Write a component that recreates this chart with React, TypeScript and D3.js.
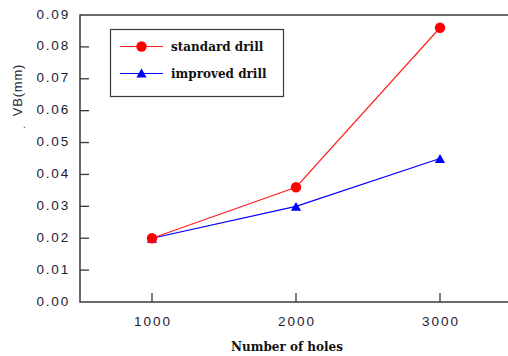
import React, { useEffect, useRef } from 'react';
import * as d3 from 'd3';

const holes = [1000, 2000, 3000];
const standardDrill = [0.02, 0.036, 0.086];
const improvedDrill = [0.02, 0.03, 0.045];
const yTicks = [0, 0.01, 0.02, 0.03, 0.04, 0.05, 0.06, 0.07, 0.08, 0.09];
const seriesNames = ['standard drill', 'improved drill'];

export default function App() {
  const ref = useRef<SVGSVGElement>(null);

  useEffect(() => {
    const svg = d3.select(ref.current);
    svg.selectAll('*').remove();

    const left = 80, top = 15, bottom = 302, right = 512;
    const x = d3.scaleLinear().domain([500, 3500]).range([left, right]);
    const y = d3.scaleLinear().domain([0, 0.09]).range([bottom, top]);

    const frame = '#3a3a3a';
    const sans = 'Liberation Sans, Arial, sans-serif';
    const serif = 'DejaVu Serif, serif';

    // frame (right side falls outside the picture)
    svg.append('path')
      .attr('d', `M${right},${top}H${left}V${bottom}H${right}`)
      .attr('fill', 'none').attr('stroke', frame).attr('stroke-width', 1.5);

    // y ticks + labels
    const yg = svg.append('g');
    yTicks.forEach((t) => {
      if (t > 0 && t < 0.09) {
        yg.append('line')
          .attr('x1', left).attr('x2', left + 9)
          .attr('y1', y(t)).attr('y2', y(t))
          .attr('stroke', frame).attr('stroke-width', 1.3);
      }
      yg.append('text')
        .attr('x', 70).attr('y', y(t))
        .attr('text-anchor', 'end').attr('dominant-baseline', 'middle')
        .attr('font-family', sans).attr('font-size', 13.5)
        .attr('letter-spacing', 1.8).attr('fill', '#1c1c30')
        .text(d3.format('.2f')(t));
    });

    // x ticks + labels
    holes.forEach((h) => {
      svg.append('line')
        .attr('x1', x(h)).attr('x2', x(h))
        .attr('y1', bottom).attr('y2', bottom - 9)
        .attr('stroke', frame).attr('stroke-width', 1.3);
      svg.append('text')
        .attr('x', x(h) + 1).attr('y', 322)
        .attr('text-anchor', 'middle').attr('dominant-baseline', 'middle')
        .attr('font-family', sans).attr('font-size', 13.5)
        .attr('letter-spacing', 2).attr('fill', '#1c1c30')
        .text(String(h));
    });

    // axis titles
    svg.append('text')
      .attr('x', 287).attr('y', 351)
      .attr('text-anchor', 'middle')
      .attr('font-family', serif).attr('font-weight', 'bold').attr('font-size', 12)
      .attr('fill', '#111')
      .text('Number of holes');

    svg.append('text')
      .attr('transform', 'translate(22,90) rotate(-90)')
      .attr('text-anchor', 'middle')
      .attr('font-family', sans).attr('font-size', 13)
      .attr('letter-spacing', 0.8).attr('fill', '#2a2a3a')
      .text('VB(mm)');
    svg.append('text')
      .attr('x', 23).attr('y', 128)
      .attr('font-family', sans).attr('font-size', 10).attr('fill', '#444')
      .text('.');

    const line = d3.line<number>()
      .x((_, i) => x(holes[i]))
      .y((d) => y(d));

    const tri = d3.symbol().type(d3.symbolTriangle).size(45);

    // improved drill
    svg.append('path')
      .attr('d', line(improvedDrill))
      .attr('fill', 'none').attr('stroke', '#0000ff').attr('stroke-width', 1.2);
    svg.selectAll('.tri').data(improvedDrill).enter().append('path')
      .attr('transform', (d, i) => `translate(${x(holes[i])},${y(d) + 1.5})`)
      .attr('d', tri())
      .attr('fill', '#0000ff');

    // standard drill
    svg.append('path')
      .attr('d', line(standardDrill))
      .attr('fill', 'none').attr('stroke', '#ff2020').attr('stroke-width', 1.2);
    svg.selectAll('.dot').data(standardDrill).enter().append('circle')
      .attr('cx', (_, i) => x(holes[i])).attr('cy', (d) => y(d))
      .attr('r', 5.2).attr('fill', '#ff0000');

    // legend
    const lg = svg.append('g');
    lg.append('rect')
      .attr('x', 110.5).attr('y', 29.5).attr('width', 173).attr('height', 67)
      .attr('fill', 'white').attr('stroke', frame).attr('stroke-width', 1.2);
    const rows = [46.5, 73.5];
    const colors = ['#ff2020', '#0000ff'];
    rows.forEach((ry, i) => {
      lg.append('line')
        .attr('x1', 120).attr('x2', 163).attr('y1', ry).attr('y2', ry)
        .attr('stroke', colors[i]).attr('stroke-width', 1.2);
      if (i === 0) {
        lg.append('circle').attr('cx', 141.5).attr('cy', ry).attr('r', 5.2).attr('fill', '#ff0000');
      } else {
        lg.append('path').attr('transform', `translate(141.5,${ry + 1})`).attr('d', tri()).attr('fill', '#0000ff');
      }
      lg.append('text')
        .attr('x', 171).attr('y', ry + 4)
        .attr('font-family', serif).attr('font-weight', 'bold').attr('font-size', 12)
        .attr('fill', '#111')
        .text(seriesNames[i]);
    });
  }, []);

  return (
    <svg
      ref={ref}
      width={508}
      height={356}
      style={{ position: 'absolute', left: 0, top: 0, background: 'white' }}
    />
  );
}
